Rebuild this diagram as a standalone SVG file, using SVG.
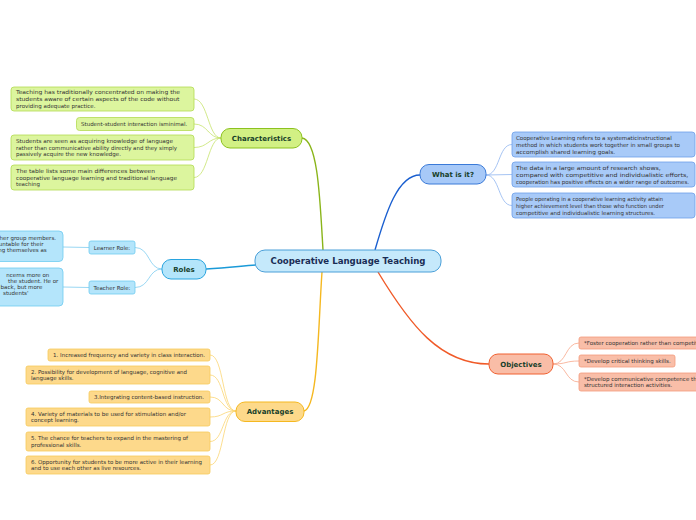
<svg xmlns="http://www.w3.org/2000/svg" width="696" height="520" viewBox="0 0 696 520">
<style>
text{font-family:"DejaVu Sans",Verdana,sans-serif}
.lt{font-size:5.5px;fill:#333}
.nt{font-size:7px;font-weight:bold;fill:#17402a;text-anchor:middle}
.ct{font-size:8.6px;font-weight:bold;fill:#1a2d55;text-anchor:middle}
.gl{fill:#dcf59e;stroke:#b3db52;stroke-width:0.8}
.bl{fill:#a8caf8;stroke:#6c9fe8;stroke-width:0.8}
.cl{fill:#b4e5fb;stroke:#6ecbf0;stroke-width:0.8}
.ol{fill:#f9bea8;stroke:#f49b7b;stroke-width:0.8}
.yl{fill:#fdd98b;stroke:#f6ca5a;stroke-width:0.8}
.c{fill:none}
</style>
<g id="connectors">
<path class="c" stroke="#8ab51a" stroke-width="1.4" d="M302,138 C318,140 320,200 323,250"/>
<path class="c" stroke="#1a5fd0" stroke-width="1.4" d="M420,175 C398,175 386,212 375,250"/>
<path class="c" stroke="#1a9ad8" stroke-width="1.4" d="M206,269 C230,268 240,266 256,265"/>
<path class="c" stroke="#f05a28" stroke-width="1.4" d="M378,272 C410,325 440,364 489,364"/>
<path class="c" stroke="#f5b820" stroke-width="1.4" d="M304,411 C318,408 318,330 322,272"/>
<g stroke="#c6e36c" stroke-width="0.8" fill="none">
<path d="M194,99 C208,99 208,138 221,138"/>
<path d="M194,124 C208,124 208,138 221,138"/>
<path d="M194,147.5 C208,147.5 208,138 221,138"/>
<path d="M194,177.5 C208,177.5 208,138 221,138"/>
</g>
<g stroke="#7fcdf0" stroke-width="0.8" fill="none">
<path d="M135,247.5 C150,247.5 148,269 162,269"/>
<path d="M135,287.5 C150,287.5 148,269 162,269"/>
<path d="M63,247 L89,247.5"/>
<path d="M63,287 L89,287.5"/>
</g>
<g stroke="#8fb5f0" stroke-width="0.8" fill="none">
<path d="M486,175 C500,175 498,144.5 512,144.5"/>
<path d="M486,175 L512,174.5"/>
<path d="M486,175 C500,175 498,205.5 512,205.5"/>
</g>
<g stroke="#f8a78a" stroke-width="0.8" fill="none">
<path d="M553,364 C567,364 565,343 579,343"/>
<path d="M553,364 C567,364 565,361 579,361"/>
<path d="M553,364 C567,364 565,382 579,382"/>
</g>
<g stroke="#fbd574" stroke-width="0.8" fill="none">
<path d="M210,355 C224,355 222,411 236,411"/>
<path d="M210,375 C224,375 222,411 236,411"/>
<path d="M210,397 C224,397 222,411 236,411"/>
<path d="M210,417 C224,417 222,411 236,411"/>
<path d="M210,441.5 C224,441.5 222,411 236,411"/>
<path d="M210,465 C224,465 222,411 236,411"/>
</g>
</g>
<g id="center">
<rect x="255" y="250" width="186" height="22" rx="10" fill="#c5e9fb" stroke="#4a9fd8" stroke-width="1"/>
<text class="ct" x="348" y="264.2">Cooperative Language Teaching</text>
</g>
<g id="characteristics">
<rect x="221" y="128.5" width="81" height="19.5" rx="9" fill="#d2f084" stroke="#8cc21e" stroke-width="1"/>
<text class="nt" x="261.5" y="140.8">Characteristics</text>
</g>
<g id="char-leaf-1">
<rect class="gl" x="11" y="87" width="183" height="24" rx="3"/>
<text class="lt" x="16" y="94" textLength="164" lengthAdjust="spacingAndGlyphs">Teaching has traditionally  concentrated  on  making  the</text>
<text class="lt" x="16" y="101" textLength="163.5" lengthAdjust="spacingAndGlyphs">students  aware  of  certain  aspects  of  the  code  without</text>
<text class="lt" x="16" y="107.8">providing  adequate practice.</text>
</g>
<g id="char-leaf-2">
<rect class="gl" x="76.5" y="117.5" width="117.5" height="13" rx="3"/>
<text class="lt" x="81" y="125.8">Student-student interaction  isminimal.</text>
</g>
<g id="char-leaf-3">
<rect class="gl" x="11" y="135" width="183" height="25" rx="3"/>
<text class="lt" x="16" y="142.8" textLength="157" lengthAdjust="spacingAndGlyphs">Students  are  seen  as acquiring knowledge of language</text>
<text class="lt" x="16" y="149.6" textLength="161" lengthAdjust="spacingAndGlyphs">rather than communicative ability directly and they simply</text>
<text class="lt" x="16" y="156.4">passively acquire the new knowledge.</text>
</g>
<g id="char-leaf-4">
<rect class="gl" x="11" y="165" width="183" height="25" rx="3"/>
<text class="lt" x="16" y="172.8" textLength="139" lengthAdjust="spacingAndGlyphs">The  table  lists  some  main  differences  between</text>
<text class="lt" x="16" y="179.6" textLength="161" lengthAdjust="spacingAndGlyphs">cooperative  language  learning  and  traditional  language</text>
<text class="lt" x="16" y="186.4">teaching</text>
</g>
<g id="roles">
<rect x="162" y="259.5" width="44" height="19.5" rx="9" fill="#b4e5fb" stroke="#28a4df" stroke-width="1"/>
<text class="nt" x="184" y="271.8">Roles</text>
</g>
<g id="learner-role">
<rect class="cl" x="89" y="241" width="46" height="13" rx="2"/>
<text class="lt" x="112" y="249.6" text-anchor="middle">Learner Role:</text>
</g>
<g id="teacher-role">
<rect class="cl" x="89" y="281" width="46" height="13" rx="2"/>
<text class="lt" x="112" y="289.6" text-anchor="middle">Teacher Role:</text>
</g>
<g id="learner-detail">
<rect class="cl" x="-20" y="231" width="83" height="30.5" rx="4"/>
<text class="lt" x="56" y="240" text-anchor="end">her group members.</text>
<text class="lt" x="43.5" y="246" text-anchor="end">untable for their</text>
<text class="lt" x="46.7" y="252.2" text-anchor="end">ng themselves as</text>
</g>
<g id="teacher-detail">
<rect class="cl" x="-20" y="268" width="83" height="38" rx="4"/>
<text class="lt" x="49.3" y="277" text-anchor="end">ncerns more on</text>
<text class="lt" x="58.3" y="283" text-anchor="end">the student. He or</text>
<text class="lt" x="42.3" y="289.2" text-anchor="end">back, but more</text>
<text class="lt" x="28.5" y="295.2" text-anchor="end">students'</text>
</g>
<g id="what-is-it">
<rect x="420" y="164.5" width="66" height="19.5" rx="9" fill="#a7c9f8" stroke="#3a7ad8" stroke-width="1"/>
<text class="nt" x="453" y="176.8">What is it?</text>
</g>
<g id="what-leaf-1">
<rect class="bl" x="512" y="132" width="183" height="25" rx="3"/>
<text class="lt" x="516" y="140" textLength="155.7" lengthAdjust="spacingAndGlyphs">Cooperative Learning refers to a systematicinstructional</text>
<text class="lt" x="516" y="146.8" textLength="164" lengthAdjust="spacingAndGlyphs">method in which students work together in small groups to</text>
<text class="lt" x="516" y="153.5" textLength="99" lengthAdjust="spacingAndGlyphs">accomplish  shared  learning  goals.</text>
</g>
<g id="what-leaf-2">
<rect class="bl" x="512" y="162" width="183" height="25" rx="3"/>
<text class="lt" x="516" y="170" textLength="144.7" lengthAdjust="spacingAndGlyphs">The  data  in  a  large  amount  of  research  shows,</text>
<text class="lt" x="516" y="176.8" textLength="172.3" lengthAdjust="spacingAndGlyphs">compared  with  competitive  and individualistic efforts,</text>
<text class="lt" x="516" y="183.5" textLength="173" lengthAdjust="spacingAndGlyphs">cooperation has positive effects on a wider range of outcomes.</text>
</g>
<g id="what-leaf-3">
<rect class="bl" x="512" y="193" width="183" height="25" rx="3"/>
<text class="lt" x="516" y="201" textLength="147" lengthAdjust="spacingAndGlyphs">People operating in a cooperative learning activity attain</text>
<text class="lt" x="516" y="207.8" textLength="148" lengthAdjust="spacingAndGlyphs">higher achievement level than those who function under</text>
<text class="lt" x="516" y="214.5" textLength="139" lengthAdjust="spacingAndGlyphs">competitive and individualistic learning structures.</text>
</g>
<g id="objectives">
<rect x="489" y="354" width="64" height="20" rx="9" fill="#f9bda7" stroke="#f06030" stroke-width="1"/>
<text class="nt" x="521" y="366.5">Objectives</text>
</g>
<g id="obj-leaf-1">
<rect class="ol" x="579" y="337" width="130" height="12" rx="2"/>
<text class="lt" x="584" y="345">*Foster cooperation rather than competition.</text>
</g>
<g id="obj-leaf-2">
<rect class="ol" x="579" y="355" width="96" height="12" rx="2"/>
<text class="lt" x="584" y="363">*Develop critical thinking skills.</text>
</g>
<g id="obj-leaf-3">
<rect class="ol" x="579" y="373" width="130" height="18" rx="2"/>
<text class="lt" x="584" y="380.5">*Develop communicative competence through</text>
<text class="lt" x="584" y="386.8">structured interaction activities.</text>
</g>
<g id="advantages">
<rect x="236" y="402" width="68" height="19.5" rx="9" fill="#fdd98a" stroke="#f5b820" stroke-width="1"/>
<text class="nt" x="270" y="414.3">Advantages</text>
</g>
<g id="adv-leaf-1">
<rect class="yl" x="48" y="349" width="162" height="12" rx="2"/>
<text class="lt" x="53" y="356.8" textLength="152" lengthAdjust="spacingAndGlyphs">1. Increased frequency and variety in class interaction.</text>
</g>
<g id="adv-leaf-2">
<rect class="yl" x="26" y="366" width="184" height="18" rx="2"/>
<text class="lt" x="31" y="374.2" textLength="156" lengthAdjust="spacingAndGlyphs">2. Possibility for development of language, cognitive and</text>
<text class="lt" x="31" y="380.4">language skills.</text>
</g>
<g id="adv-leaf-3">
<rect class="yl" x="89" y="391" width="121" height="12" rx="2"/>
<text class="lt" x="94" y="398.8" textLength="110" lengthAdjust="spacingAndGlyphs">3.Integrating content-based instruction.</text>
</g>
<g id="adv-leaf-4">
<rect class="yl" x="26" y="408" width="184" height="18" rx="2"/>
<text class="lt" x="31" y="416.2" textLength="155" lengthAdjust="spacingAndGlyphs">4. Variety of materials to be used for stimulation and/or</text>
<text class="lt" x="31" y="422.4">concept learning.</text>
</g>
<g id="adv-leaf-5">
<rect class="yl" x="26" y="432" width="184" height="19" rx="2"/>
<text class="lt" x="31" y="440.4" textLength="157" lengthAdjust="spacingAndGlyphs">5. The chance for teachers to expand in the mastering of</text>
<text class="lt" x="31" y="446.6">professional skills.</text>
</g>
<g id="adv-leaf-6">
<rect class="yl" x="26" y="456" width="184" height="18" rx="2"/>
<text class="lt" x="31" y="464.2" textLength="171" lengthAdjust="spacingAndGlyphs">6. Opportunity for students to be more active in their learning</text>
<text class="lt" x="31" y="470.4">and to use each other as live resources.</text>
</g>
</svg>
